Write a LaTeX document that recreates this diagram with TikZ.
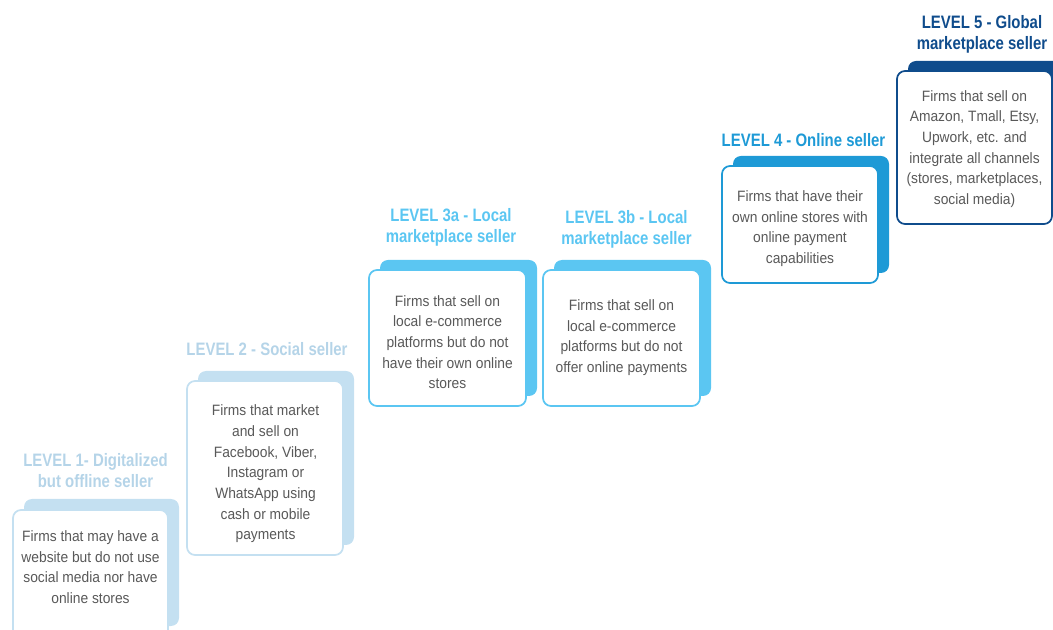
\documentclass[tikz,border=0pt]{standalone}
\usepackage{fontspec}
\setmainfont{Liberation Sans}
\newfontfamily\bodyfont[FakeStretch=0.92]{Liberation Sans}
\newfontfamily\titlefont[FakeStretch=0.83]{Liberation Sans}
\definecolor{lvA}{HTML}{C4E0F1}
\definecolor{lvAt}{HTML}{B5D4E8}
\definecolor{lvB}{HTML}{5BC6F2}
\definecolor{lvC}{HTML}{1E9AD6}
\definecolor{lvD}{HTML}{0F4C8C}
\definecolor{txt}{HTML}{595959}
\begin{document}
\begin{tikzpicture}[x=0.75pt,y=-0.75pt,
  backbox/.style={fill=#1,rounded corners=6pt},
  frontbox/.style={draw=#1,fill=white,line width=1.3pt,rounded corners=6pt},
  body/.style={align=center,text=txt,inner sep=0pt,font=\bodyfont\fontsize{11.25pt}{15.5pt}\selectfont},
  title/.style={align=center,text=#1,inner sep=0pt,anchor=base,font=\titlefont\bfseries\fontsize{13.5pt}{15.75pt}\selectfont}]
\useasboundingbox (0,0) rectangle (1053,630);
\clip (0,0) rectangle (1053,630);
% Level 1
\path[backbox=lvA] (24,499) rectangle (179,626);
\path[frontbox=lvA] (13,510) rectangle (168,645);
\node[body] (t1) at (90.5,567) {Firms that may have a\\website but do not use\\social media nor have\\online stores};
\node[title=lvAt] (h1) at (95.5,488) {LEVEL 1- Digitalized\\but offline seller};
% Level 2
\path[backbox=lvA] (198,371) rectangle (354,545);
\path[frontbox=lvA] (187,381) rectangle (343,555);
\node[body] (t2) at (265.5,474) {Firms that market\\and sell on\\Facebook, Viber,\\Instagram or\\WhatsApp using\\cash or mobile\\payments};
\node[title=lvAt] (h2) at (267,356) {LEVEL 2 - Social seller};
% Level 3a
\path[backbox=lvB] (380,260) rectangle (537,396);
\path[frontbox=lvB] (369,270) rectangle (526,406);
\node[body] (t3a) at (447.5,342) {Firms that sell on\\local e-commerce\\platforms but do not\\have their own online\\stores};
\node[title=lvB] (h3a) at (451,243) {LEVEL 3a - Local\\marketplace seller};
% Level 3b
\path[backbox=lvB] (554,260) rectangle (711,396);
\path[frontbox=lvB] (543,270) rectangle (700,406);
\node[body] (t3b) at (621.5,337.5) {Firms that sell on\\local e-commerce\\platforms but do not\\offer online payments};
\node[title=lvB] (h3b) at (626.5,245) {LEVEL 3b - Local\\marketplace seller};
% Level 4
\path[backbox=lvC] (733,156) rectangle (889,273);
\path[frontbox=lvC] (722,166) rectangle (878,283);
\node[body] (t4) at (800,228.5) {Firms that have their\\own online stores with\\online payment\\capabilities};
\node[title=lvC] (h4) at (803.5,147) {LEVEL 4 - Online seller};
% Level 5
\path[backbox=lvD] (908,61) rectangle (1064,214);
\path[frontbox=lvD] (897,71) rectangle (1052,224);
\node[body] (t5) at (974.5,149) {Firms that sell on\\Amazon, Tmall, Etsy,\\Upwork, etc. and\\integrate all channels\\(stores, marketplaces,\\social media)};
\node[title=lvD] (h5) at (982,50) {LEVEL 5 - Global\\marketplace seller};
\end{tikzpicture}
\end{document}
